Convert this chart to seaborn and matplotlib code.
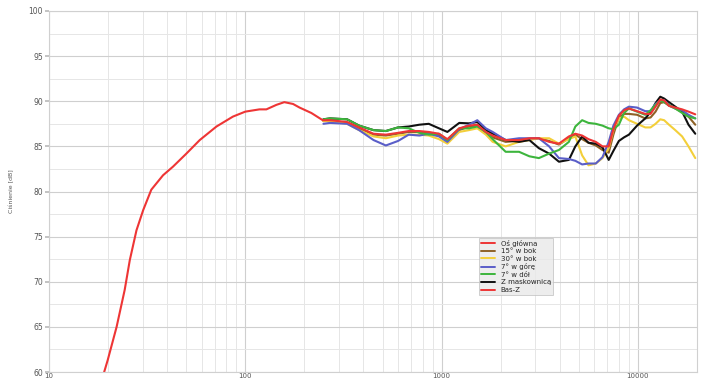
import numpy as np
import pandas as pd
import matplotlib
matplotlib.use("Agg")
import matplotlib.pyplot as plt
import seaborn as sns
from matplotlib.ticker import FixedLocator, NullFormatter, MultipleLocator
from matplotlib.lines import Line2D

# ---- data ----
freq_hi = [250, 270, 330, 380, 450, 520, 600, 680, 770, 860, 970, 1070, 1230, 1380, 1520,
           1680, 1820, 2120, 2480, 2800, 3130, 3530, 3960, 4450, 4800, 5200, 5600, 6100,
           6600, 7100, 7500, 8000, 8500, 9000, 9900, 10900, 11600, 12300, 13000, 13600,
           14400, 15500, 16800, 18100, 19600]

os_glowna = [87.9, 87.9, 87.7, 87.1, 86.4, 86.3, 86.5, 86.7, 86.7, 86.6, 86.4, 85.8, 87.0, 87.3, 87.4,
             86.6, 86.2, 85.7, 85.7, 85.9, 85.9, 85.5, 85.3, 86.1, 86.4, 86.2, 85.8, 85.5,
             85.0, 85.0, 86.9, 88.4, 89.0, 89.2, 88.9, 88.6, 88.6, 89.4, 90.2, 90.1,
             89.5, 89.3, 89.1, 88.85, 88.55]

bok_15 = [87.8, 87.9, 87.6, 87.0, 86.3, 86.2, 86.4, 86.6, 86.6, 86.5, 86.2, 85.7, 86.8, 87.2, 87.3,
          86.5, 86.0, 85.5, 85.6, 85.8, 85.9, 85.6, 85.2, 85.9, 86.3, 85.8, 85.4, 85.1,
          84.6, 84.3, 86.3, 88.2, 88.6, 88.6, 88.5, 88.1, 88.2, 88.85, 89.8, 89.9,
          89.5, 89.2, 88.8, 88.3, 87.4]

bok_30 = [87.8, 87.8, 87.5, 86.8, 86.1, 85.9, 86.2, 86.3, 86.3, 86.2, 85.8, 85.3, 86.6, 86.8, 87.0,
          86.3, 85.5, 85.0, 85.5, 85.7, 85.9, 85.9, 85.3, 85.8, 86.1, 84.0, 82.9, 83.1,
          83.7, 84.8, 86.8, 88.1, 88.3, 87.9, 87.5, 87.1, 87.1, 87.5, 88.0, 87.9,
          87.4, 86.8, 86.1, 85.0, 83.7]

gora_7 = [87.5, 87.6, 87.5, 86.8, 85.7, 85.1, 85.6, 86.3, 86.2, 86.4, 86.1, 85.5, 86.9, 87.4, 87.9,
          87.0, 86.6, 85.7, 85.9, 85.9, 85.9, 85.0, 83.7, 83.6, 83.4, 83.0, 83.1, 83.1,
          83.8, 85.5, 87.3, 88.5, 89.1, 89.4, 89.3, 88.9, 88.9, 89.7, 90.1, 90.1,
          89.6, 89.2, 89.0, 88.5, 88.1]

dol_7 = [88.0, 88.1, 88.0, 87.3, 86.8, 86.7, 87.1, 87.0, 86.5, 86.3, 86.4, 85.7, 87.0, 87.0, 87.2,
         86.6, 85.8, 84.4, 84.4, 83.9, 83.7, 84.2, 84.6, 85.5, 87.2, 87.9, 87.6, 87.5,
         87.3, 87.0, 86.9, 87.4, 88.7, 89.2, 88.85, 88.5, 89.0, 89.6, 90.1, 89.9,
         89.6, 89.2, 88.7, 88.3, 88.1]

maskownica = [88.0, 88.1, 88.0, 87.3, 86.8, 86.7, 87.1, 87.2, 87.4, 87.5, 87.0, 86.6, 87.6, 87.55, 87.7,
              86.8, 86.4, 85.7, 85.5, 85.7, 84.8, 84.2, 83.3, 83.5, 85.0, 86.1, 85.4, 85.3,
              84.9, 83.5, 84.5, 85.6, 86.0, 86.3, 87.3, 88.1, 88.8, 89.8, 90.5, 90.3,
              89.9, 89.4, 88.85, 87.4, 86.4]

freq_bas = [19.1, 19.9, 22.1, 24.3, 25.8, 27.9, 30.2, 33.2, 38.1, 42.8, 50.1, 58.6, 71.3,
            86.5, 100, 118, 128, 144, 158, 175, 189, 217, 248]
bas_z = [60.0, 61.3, 65.0, 69.1, 72.4, 75.7, 77.95, 80.2, 81.8, 82.75, 84.2, 85.7, 87.2,
         88.3, 88.85, 89.1, 89.1, 89.6, 89.9, 89.7, 89.3, 88.7, 87.9]

series_names = ["Oś główna", "15° w bok", "30° w bok", "7° w górę", "7° w dół", "Z maskownicą", "Bas-Z"]
colors = ["#ee3535", "#8e6227", "#f3cf3a", "#5a5ec8", "#3db53d", "#111111", "#ee3535"]
x_tick_vals = [10, 100, 1000, 10000]
x_tick_labels = ["10", "100", "1000", "10000"]

# ---- long-form table ----
rows = []
hi_values = {"Oś główna": os_glowna, "15° w bok": bok_15, "30° w bok": bok_30,
             "7° w górę": gora_7, "7° w dół": dol_7, "Z maskownicą": maskownica}
for name, vals in hi_values.items():
    for f, v in zip(freq_hi, vals):
        rows.append((name, f, v))
for f, v in zip(freq_bas, bas_z):
    rows.append(("Bas-Z", f, v))
df = pd.DataFrame(rows, columns=["series", "freq", "spl"])

sns.set_theme(style="white")
plt.rcParams['font.family'] = ['DejaVu Sans']

fig = plt.figure(figsize=(7.05, 3.81), dpi=100)
ax = fig.add_axes([49/705, 1-372/381, (697-49)/705, (372-11)/381])

palette = dict(zip(series_names, colors))
draw_order = ["15° w bok", "30° w bok", "Z maskownicą", "7° w górę", "7° w dół", "Oś główna", "Bas-Z"]
for name in draw_order:
    sub = df[df.series == name]
    sns.lineplot(data=sub, x="freq", y="spl", color=palette[name], lw=1.5,
                 sort=False, estimator=None, ax=ax, legend=False)

ax.set_xscale("log")
ax.set_xlim(10, 20000)
ax.set_ylim(60, 100)

ax.xaxis.set_major_locator(FixedLocator(x_tick_vals))
minor = [m * 10**e for e in range(1, 5) for m in range(2, 10) if m * 10**e <= 20000]
ax.xaxis.set_minor_locator(FixedLocator(minor))
ax.xaxis.set_minor_formatter(NullFormatter())
ax.set_xticklabels(x_tick_labels)
ax.yaxis.set_major_locator(MultipleLocator(5))
ax.yaxis.set_minor_locator(MultipleLocator(2.5))

ax.grid(which="major", color="#cfcfcf", lw=0.8)
ax.grid(which="minor", color="#e6e6e6", lw=0.7)
ax.set_axisbelow(True)
for s in ax.spines.values():
    s.set_color("#d0d0d0")
    s.set_linewidth(0.8)

ax.tick_params(axis="y", which="major", length=3, color="#bbbbbb", labelsize=5.5,
               labelcolor="#555555", pad=1.5, left=True)
ax.tick_params(axis="x", which="major", length=0, labelsize=5.0, labelcolor="#555555", pad=0.8)
ax.tick_params(which="minor", length=0)

ax.set_xlabel("")
ax.set_ylabel("Ciśnienie [dB]", fontsize=4.5, color="#555555", labelpad=10)

handles = [Line2D([0], [0], color=c, lw=1.4) for c in colors]
leg = ax.legend(handles, series_names, loc="upper left", bbox_to_anchor=(0.664, 0.372),
                fontsize=5, frameon=True, fancybox=False, handlelength=2.0,
                handletextpad=0.8, borderpad=0.3, labelspacing=0.22, borderaxespad=0)
leg.get_frame().set_facecolor("#e9e9e9")
leg.get_frame().set_edgecolor("#bdbdbd")
leg.get_frame().set_linewidth(0.6)

fig.savefig("out.png", dpi=100)
